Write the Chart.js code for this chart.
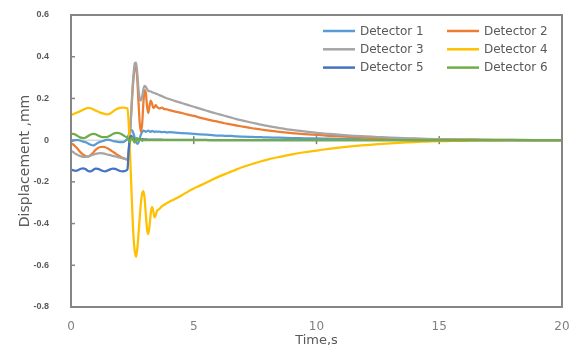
<!DOCTYPE html>
<html>
<head>
<meta charset="utf-8">
<script src="https://cdn.jsdelivr.net/npm/chart.js@4.4.0/dist/chart.umd.min.js"></script>
<style>
html,body{margin:0;padding:0;background:#fff;}
#wrap{width:577px;height:345px;position:relative;}
canvas{display:block;}
</style>
</head>
<body>
<div id="wrap"><canvas id="c" width="577" height="345"></canvas></div>
<script>
// ---- data ----
const time = [
  0,0.1,0.2,0.3,0.4,0.5,0.6,0.7,0.8,0.9,1,1.1,1.2,1.3,1.4,1.5,1.6,1.7,1.8,1.9,2,2.1,2.2,2.3,
  2.35,2.4,2.45,2.5,2.55,2.6,2.65,2.7,2.75,2.8,2.85,2.9,2.95,3,3.05,3.1,3.15,3.2,3.25,3.3,3.35,3.4,3.45,3.5,
  3.6,3.7,3.8,3.9,4,
  4.25,4.5,4.75,5,5.25,5.5,5.75,6,6.25,6.5,6.75,7,7.25,7.5,7.75,8,
  8.5,9,9.5,10,10.5,11,11.5,12,12.5,13,13.5,14,14.5,15,15.5,16,16.5,17,17.5,18,18.5,19,19.5,20
];
const detector1 = [
  -0.005,-0.002,0,0,-0.003,-0.007,-0.01,-0.016,-0.022,-0.025,-0.02,-0.013,-0.008,-0.004,0,0.002,0,-0.004,-0.006,-0.008,-0.01,-0.01,-0.005,0.008,
  0.025,0.04,0.048,0.045,0.03,0.01,-0.008,-0.018,-0.012,0.008,0.028,0.04,0.046,0.044,0.04,0.043,0.046,0.042,0.04,0.044,0.042,0.039,0.042,0.04,
  0.041,0.038,0.04,0.037,0.038,
  0.036,0.034,0.032,0.03,0.028,0.026,0.024,0.022,0.021,0.02,0.018,0.017,0.016,0.015,0.014,0.013,
  0.012,0.01,0.009,0.008,0.007,0.006,0.005,0.004,0.004,0.003,0.003,0.002,0.002,0.001,0.001,0.001,0.001,0,0,0,0,0,0,0
];
const detector2 = [
  -0.015,-0.022,-0.033,-0.046,-0.06,-0.07,-0.077,-0.079,-0.072,-0.06,-0.047,-0.038,-0.033,-0.032,-0.034,-0.04,-0.047,-0.055,-0.063,-0.071,-0.078,-0.084,-0.089,-0.092,
  -0.06,0.02,0.12,0.22,0.3,0.345,0.35,0.29,0.18,0.08,0.04,0.08,0.18,0.24,0.225,0.16,0.13,0.165,0.19,0.175,0.155,0.158,0.168,0.16,
  0.152,0.156,0.149,0.148,0.144,
  0.137,0.131,0.122,0.116,0.108,0.101,0.094,0.088,0.081,0.076,0.07,0.065,0.06,0.055,0.051,0.047,
  0.04,0.034,0.029,0.025,0.021,0.018,0.015,0.012,0.01,0.008,0.007,0.006,0.005,0.004,0.003,0.002,0.002,0.001,0.001,0.001,0,0,0,0
];
const detector3 = [
  -0.05,-0.058,-0.066,-0.072,-0.077,-0.08,-0.08,-0.078,-0.074,-0.07,-0.066,-0.063,-0.062,-0.063,-0.066,-0.07,-0.072,-0.075,-0.078,-0.081,-0.084,-0.087,-0.09,-0.092,
  -0.05,0.03,0.13,0.24,0.32,0.37,0.372,0.32,0.245,0.2,0.19,0.21,0.245,0.26,0.255,0.245,0.236,0.235,0.233,0.23,0.228,0.226,0.223,0.221,
  0.216,0.211,0.206,0.201,0.197,
  0.187,0.178,0.169,0.16,0.151,0.142,0.133,0.125,0.117,0.109,0.101,0.094,0.087,0.08,0.074,0.068,
  0.058,0.049,0.042,0.035,0.03,0.025,0.021,0.018,0.015,0.012,0.01,0.008,0.006,0.005,0.004,0.003,0.002,0.002,0.001,0.001,0.001,0,0,0
];
const detector4 = [
  0.12,0.125,0.13,0.135,0.14,0.146,0.151,0.155,0.153,0.148,0.142,0.137,0.132,0.128,0.125,0.124,0.128,0.136,0.145,0.151,0.155,0.156,0.155,0.152,
  0.08,-0.05,-0.2,-0.35,-0.47,-0.535,-0.56,-0.52,-0.45,-0.37,-0.3,-0.255,-0.245,-0.28,-0.36,-0.43,-0.45,-0.41,-0.35,-0.32,-0.34,-0.37,-0.36,-0.34,
  -0.33,-0.318,-0.31,-0.302,-0.296,
  -0.281,-0.265,-0.248,-0.232,-0.218,-0.204,-0.19,-0.176,-0.164,-0.152,-0.14,-0.129,-0.119,-0.11,-0.101,-0.093,
  -0.08,-0.068,-0.058,-0.05,-0.042,-0.035,-0.029,-0.024,-0.019,-0.015,-0.012,-0.009,-0.007,-0.005,-0.004,-0.003,-0.002,-0.001,-0.001,0,0,0,0,0
];
const detector5 = [
  -0.14,-0.145,-0.147,-0.143,-0.137,-0.135,-0.14,-0.148,-0.15,-0.143,-0.137,-0.138,-0.143,-0.148,-0.15,-0.145,-0.14,-0.136,-0.138,-0.143,-0.148,-0.15,-0.148,-0.14,
  -0.05,0.01,0.02,0.015,0.006,0,0.002,0.006,0.004,0.002,0.004,0.005,0.004,0.003,0.004,0.003,0.003,0.002,0.003,0.002,0.002,0.002,0.002,0.002,
  0.002,0.002,0.001,0.001,0.001,
  0.001,0.001,0.001,0.001,0.001,0.001,0,0,0,0,0,0,0,0,0,0,
  0,0,0,0,0,0,0,0,0,0,0,0,0,0,0,0,0,0,0,0,0,0,0,0
];
const detector6 = [
  0.03,0.03,0.025,0.018,0.012,0.01,0.013,0.02,0.027,0.03,0.028,0.022,0.017,0.014,0.014,0.016,0.022,0.03,0.034,0.035,0.032,0.026,0.018,0.01,
  0,-0.01,0.01,0.012,-0.004,-0.012,0.006,0.01,-0.004,0.004,0.003,-0.003,0.002,0,0,0,0,0,0,0,0,0,0,0,
  0,0,0,0,0,
  0,0,0,0,0,0,0,0,0,0,0,0,0,0,0,0,
  0,0,0,0,0,0,0,0,0,0,0,0,0,0,0,0,0,0,0,0,0,0,0,0
];
const seriesNames = ['Detector 1','Detector 2','Detector 3','Detector 4','Detector 5','Detector 6'];
const seriesValues = [detector1, detector2, detector3, detector4, detector5, detector6];
const seriesColors = ['#5B9BD5','#ED7D31','#A5A5A5','#FFC000','#4472C4','#70AD47'];
const xTickValues = [0,5,10,15,20];
const yTickValues = [-0.8,-0.6,-0.4,-0.2,0,0.2,0.4,0.6];
const xTitle = 'Time,s';
const yTitle = 'Displacement ,mm';

const frameColor = '#858585';

// plot-area box taken from the scales themselves
function plotBox(chart) {
  const {x, y} = chart.scales;
  return {
    left: x.getPixelForValue(x.min), right: x.getPixelForValue(x.max),
    top: y.getPixelForValue(y.max), bottom: y.getPixelForValue(y.min)
  };
}

// ---- plugins ----
const zeroAxisPlugin = {
  id: 'zeroAxis',
  beforeDatasetsDraw(chart) {
    const {ctx, scales: {x, y}} = chart;
    const a = plotBox(chart);
    const y0 = y.getPixelForValue(0);
    ctx.save();
    ctx.fillStyle = '#c8c8c8';
    ctx.fillRect(a.left, y0 - 0.5, a.right - a.left, 1);
    ctx.fillStyle = '#7f7f7f';
    for (const t of x.ticks) {
      const px = x.getPixelForValue(t.value);
      ctx.fillRect(px - 0.75, y0 - 4, 1.5, 8);
    }
    ctx.fillStyle = frameColor;
    for (const t of y.ticks) {
      const py = y.getPixelForValue(t.value);
      ctx.fillRect(a.left, py - 0.75, 4, 1.5);
    }
    ctx.restore();
  }
};
const framePlugin = {
  id: 'plotFrame',
  afterDraw(chart) {
    const {ctx} = chart;
    const a = plotBox(chart);
    ctx.save();
    ctx.strokeStyle = frameColor;
    ctx.lineWidth = 2;
    ctx.strokeRect(a.left, a.top, a.right - a.left, a.bottom - a.top);
    ctx.restore();
  }
};
const legendPlugin = {
  id: 'cornerLegend',
  afterDraw(chart) {
    const {ctx} = chart;
    const a = plotBox(chart);
    ctx.save();
    ctx.font = '12px "DejaVu Sans"';
    ctx.fillStyle = '#595959';
    ctx.textBaseline = 'middle';
    chart.data.datasets.forEach((d, i) => {
      const col = i % 2, row = Math.floor(i / 2);
      const lx = a.right - 239 + col * 124;
      const ly = a.top + 16 + row * 18.3;
      ctx.strokeStyle = d.borderColor;
      ctx.lineWidth = 2.5;
      ctx.beginPath(); ctx.moveTo(lx, ly); ctx.lineTo(lx + 32, ly); ctx.stroke();
      ctx.fillText(d.label, lx + 37, ly + 0.5);
    });
    ctx.restore();
  }
};

const datasets = seriesNames.map((name, i) => ({
  label: name,
  data: time.map((t, k) => ({x: t, y: seriesValues[i][k]})),
  borderColor: seriesColors[i],
  backgroundColor: seriesColors[i],
  borderWidth: 2.25,
  pointRadius: 0,
  cubicInterpolationMode: 'monotone',
  fill: false,
  clip: false,
  order: seriesNames.length - i
}));

function noPad(s) { s.paddingTop = 0; s.paddingBottom = 0; s.paddingLeft = 0; s.paddingRight = 0; }

Chart.defaults.color = '#595959';
new Chart(document.getElementById('c'), {
  type: 'line',
  data: {datasets},
  plugins: [zeroAxisPlugin, framePlugin, legendPlugin],
  options: {
    responsive: false,
    animation: false,
    layout: {padding: {left: 0, right: 15, top: 15, bottom: 0}},
    plugins: {legend: {display: false}, tooltip: {enabled: false}},
    scales: {
      x: {
        type: 'linear', min: 0, max: 20,
        afterBuildTicks(s) { s.ticks = xTickValues.map(v => ({value: v})); },
        afterFit(s) { s.height = 38; noPad(s); },
        grid: {display: false, drawTicks: false},
        border: {display: false},
        ticks: {padding: 13, color: '#808080', font: {family: '"DejaVu Sans"', size: 12}, maxRotation: 0,
                callback: v => String(v)},
        title: {display: true, text: xTitle, color: '#595959', font: {family: '"DejaVu Sans"', size: 13},
                padding: {top: 0, bottom: -3}}
      },
      y: {
        type: 'linear', min: -0.8, max: 0.6,
        afterBuildTicks(s) { s.ticks = yTickValues.map(v => ({value: v})); },
        afterFit(s) { s.width = 71; noPad(s); },
        grid: {display: false, drawTicks: false},
        border: {display: false},
        ticks: {padding: 22, color: '#595959', font: {family: '"Liberation Sans"', size: 9, weight: 'bold'},
                callback: v => String(Number(v.toFixed(1)))},
        title: {display: true, text: yTitle, color: '#595959', font: {family: '"DejaVu Sans"', size: 14},
                padding: {top: 17, bottom: 0}}
      }
    }
  }
});
</script>
</body>
</html>
